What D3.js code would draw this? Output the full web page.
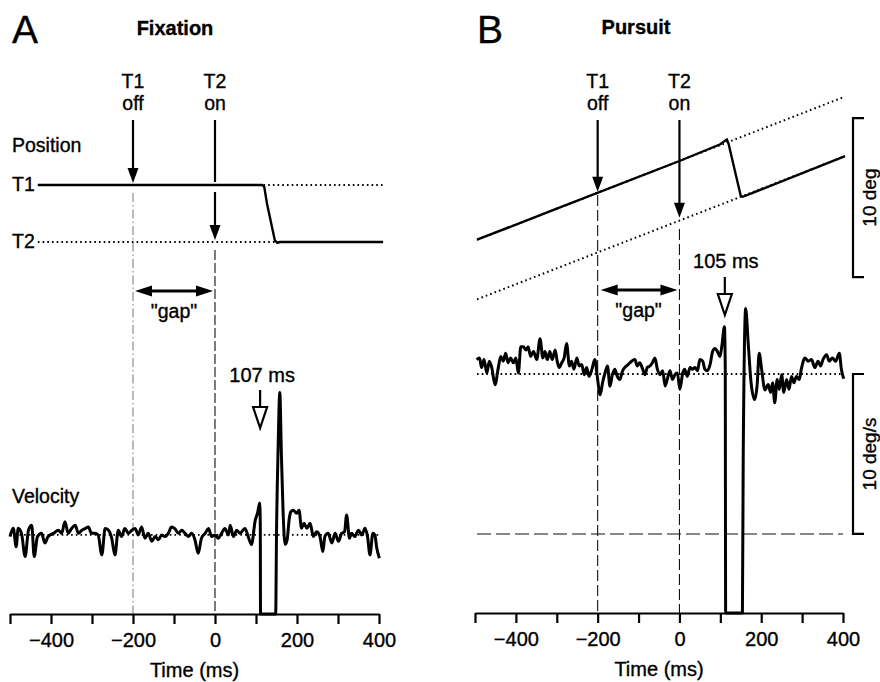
<!DOCTYPE html>
<html><head><meta charset="utf-8">
<script src="https://cdn.jsdelivr.net/npm/d3@7"></script>
<style>
body{margin:0;background:#fff}
text{font-family:"Liberation Sans",Arial,Helvetica,sans-serif;fill:#000;stroke:#000;stroke-width:0.35px}
</style>
</head><body>
<svg id="c" width="880" height="682"></svg>
<script>
// ---------------- DATA ----------------
const timeDomain = [-500, 400];
const tickValues = [-500, -400, -300, -200, -100, 0, 100, 200, 300, 400];
const labeledTicks = [-400, -200, 0, 200, 400];
const tickLabels = ["\u2212400", "\u2212200", "0", "200", "400"];
const eventTimes = [-200, 0];               // T1 off, T2 on
const eventLabels = [["T1", "off"], ["T2", "on"]];
const latencyLabels = ["107 ms", "105 ms"];
const latencyMarkTimes = [110, 111];        // open-arrow positions (ms)

// Panel A (Fixation) position, deg
const posA_T1 = [[-432, 0], [410, 0]];
const posA_T2 = [[-432, -3.6], [410, -3.6]];
const posA_eye = [[-432, 0], [115, 0], [120, -0.1], [127, -1.2], [146, -3.5], [152, -3.65], [158, -3.6], [410, -3.6]];

// Panel A velocity, deg/s (-5 = off scale, below axis)
const velA = [[-500,-0.1],[-492,0.42],[-485,-0.73],[-480,0.42],[-472,0.1],[-463,-1.35],[-455,0.3],[-447,0.6],[-441,-1.35],[-433,-0.1],[-423,0.1],[-415,-0.5],[-407,-0.1],[-394,0.1],[-382,0.3],[-374,0.1],[-366,0.83],[-358,0.1],[-350,0.4],[-341,0.6],[-333,0.1],[-325,0.3],[-317,0.4],[-309,0.5],[-301,0.1],[-293,0.1],[-285,0],[-276,-1.25],[-268,0.4],[-260,0.3],[-252,-0.2],[-244,-1.25],[-236,0.3],[-228,-0.1],[-220,0.4],[-211,0.1],[-203,0.3],[-195,0.4],[-187,0],[-179,0.5],[-171,-0.2],[-163,0.1],[-154,-0.4],[-146,-0.1],[-138,-0.3],[-130,0],[-122,-0.1],[-114,0.1],[-106,0.5],[-98,0.4],[-89,0.1],[-81,0.3],[-73,0.1],[-65,-0.1],[-57,0.1],[-49,-0.3],[-41,-1.15],[-33,-0.2],[-24,0.1],[-16,0.4],[-8,-0.1],[0,0],[8,-0.2],[16,0.1],[24,0.4],[33,0],[37,0.6],[45,-0.1],[53,0.3],[61,0.1],[73,0.4],[81,-0.1],[89,-0.6],[98,0.9],[104,1.4],[109,2.0],[110.5,0.6],[111,-5],[148,-5],[150,0],[154,5.5],[158,8.9],[162,5],[166,1.5],[171,-0.6],[176,-0.3],[181,1.0],[185,1.45],[191,1.55],[199,1.35],[205,1.55],[211,0.42],[217,0.73],[224,0.42],[232,0.73],[240,-0.1],[248,0.2],[256,-0.1],[263,-1.04],[268,-0.1],[276,0.1],[285,-0.5],[293,0.1],[301,-0.4],[309,0.1],[316,0.2],[321,1.25],[328,-0.2],[333,0.1],[341,-0.1],[350,0.3],[358,0],[366,0.42],[372,-0.1],[378,-1.25],[385,0.1],[390,0],[394,-0.73],[401,-1.45]];

// Panel B (Pursuit) position, deg
const posB_T1 = [[-495, -4.95], [400, 4.0]];
const posB_T2 = [[-495, -8.7], [405, 0.3]];
const posB_eye = [[-495,-4.95],[-300,-3.0],[0,0],[100,1.05],[110,1.25],[116,1.35],[120,1.1],[150,-2.2],[155,-2.25],[405,0.3]];

// Panel B velocity, deg/s (-6 = off scale, below axis)
const velB = [[-496,10.9],[-489,11.0],[-484,10.4],[-478,10.9],[-471,10.06],[-465,10.8],[-459,10.4],[-451,9.33],[-443,10.4],[-437,11.1],[-431,10.8],[-425,11.3],[-419,10.7],[-413,11.0],[-406,10.7],[-400,11.0],[-394,10.06],[-388,11.7],[-382,11.7],[-375,11.5],[-370,11.7],[-364,11.1],[-357,11.4],[-349,10.9],[-341,12.2],[-334,11.0],[-329,11.4],[-323,10.9],[-317,11.4],[-311,10.9],[-304,11.5],[-299,10.8],[-294,10.4],[-288,10.7],[-282,11.0],[-276,11.9],[-269,10.5],[-264,10.8],[-258,10.3],[-251,11.0],[-245,10.5],[-239,10.6],[-233,9.96],[-227,10.4],[-221,9.85],[-215,10.2],[-207,10.9],[-201,9.85],[-194,8.7],[-188,9.46],[-182,10.06],[-176,10.5],[-170,9.23],[-164,9.96],[-158,10.3],[-152,9.85],[-146,9.65],[-139,10.2],[-134,10.4],[-125,10.6],[-117,10.8],[-109,10.9],[-103,10.5],[-97,10.7],[-90,10.3],[-84,9.96],[-79,10.4],[-72,10.5],[-66,10.7],[-60,11.0],[-54,10.3],[-48,9.96],[-41,10.2],[-35,9.25],[-29,9.75],[-23,10.2],[-17,9.65],[-11,9.96],[-5,10.06],[1,9.04],[8,10.06],[13,10.3],[19,9.85],[26,10.4],[32,10.3],[38,10.4],[44,10.2],[50,10.9],[57,10.8],[62,10.3],[68,10.2],[75,10.6],[81,11.4],[87,11.6],[93,11.4],[99,11.1],[104,11.8],[110,12.96],[112,10.5],[113,-6],[154,-6],[156,5],[162,14.1],[168,12],[175,9.5],[184,8.4],[190,9.3],[195,11.3],[201,10.3],[209,9.0],[217,9.35],[223,8.85],[228,9.46],[233,8.2],[239,9.65],[244,9.04],[250,9.96],[255,8.85],[262,9.65],[268,9.04],[274,9.85],[280,9.46],[286,9.85],[293,9.65],[298,10.3],[307,11.0],[315,10.8],[323,10.9],[331,10.4],[339,10.8],[345,10.5],[351,10.9],[360,11.2],[366,10.8],[374,11.0],[382,10.8],[391,11.3],[396,10.3],[402,9.7]];
const velB_target = 10;   // deg/s, dotted reference
const scaleBarPos = [2.7, -7.3];   // 10 deg bar (deg)
const scaleBarVel = [10, 0];       // 10 deg/s bar (deg/s)

// ---------------- DRAWING ----------------
const svg = d3.select("#c");
svg.append("rect").attr("width", 880).attr("height", 682).attr("fill", "#fff");

function txt(g, x, y, s, o = {}) {
  return g.append("text").attr("x", x).attr("y", y).text(s)
    .attr("font-size", o.size || 19)
    .attr("font-weight", o.bold ? "bold" : "normal")
    .attr("text-anchor", o.anchor || "start");
}
function headDown(g, x, yTip, len = 15, hw = 5.5) {
  g.append("path").attr("d", `M${x},${yTip}L${x - hw},${yTip - len}L${x + hw},${yTip - len}Z`).attr("fill", "#000");
}
function arrowDown(g, x, y1, y2) {
  g.append("line").attr("x1", x).attr("x2", x).attr("y1", y1).attr("y2", y2 - 10).attr("stroke", "#000").attr("stroke-width", 2.2);
  headDown(g, x, y2);
}
function openArrow(g, x, y1, yTip) {
  g.append("line").attr("x1", x).attr("x2", x).attr("y1", y1).attr("y2", yTip - 20).attr("stroke", "#000").attr("stroke-width", 2.2);
  g.append("path").attr("d", `M${x},${yTip}L${x - 7},${yTip - 21}L${x + 7},${yTip - 21}Z`)
    .attr("fill", "#fff").attr("stroke", "#000").attr("stroke-width", 2.2).attr("stroke-linejoin", "miter");
}
function gapArrow(g, x1, x2, y) {
  g.append("line").attr("x1", x1 + 10).attr("x2", x2 - 10).attr("y1", y).attr("y2", y).attr("stroke", "#000").attr("stroke-width", 2.8);
  g.append("path").attr("d", `M${x1},${y}L${x1 + 17},${y - 5.5}L${x1 + 17},${y + 5.5}Z`).attr("fill", "#000");
  g.append("path").attr("d", `M${x2},${y}L${x2 - 17},${y - 5.5}L${x2 - 17},${y + 5.5}Z`).attr("fill", "#000");
}
function timeAxis(g, x, y) {
  const ax = d3.axisBottom(x).tickValues(tickValues).tickSize(10).tickSizeOuter(0).tickPadding(9)
    .tickFormat(d => { const i = labeledTicks.indexOf(d); return i >= 0 ? tickLabels[i] : ""; });
  const a = g.append("g").attr("transform", `translate(0,${y})`).call(ax);
  a.select(".domain").attr("stroke-width", 2.2);
  a.selectAll(".tick line").attr("stroke-width", 2.2);
  a.selectAll(".tick text").attr("font-size", 20).attr("font-family", '"Liberation Sans",Arial,sans-serif')
    .attr("fill", "#000").attr("stroke", "#000").attr("stroke-width", 0.35);
  txt(g, x(-50), y + 63, "Time (ms)", { size: 20, anchor: "middle" });
}
const dotted = sel => sel.attr("fill", "none").attr("stroke", "#000").attr("stroke-width", 2).attr("stroke-dasharray", "1.6,3.1");

// ===== Panel A =====
{
  const g = svg.append("g");
  const x = d3.scaleLinear().domain(timeDomain).range([10, 379]);
  const yP = d3.scaleLinear().domain([0, -3.6]).range([185, 242]);
  const yV = d3.scaleLinear().domain([-4.94, 15]).range([614, 295]).clamp(true);
  const axisY = 614;

  txt(g, 12, 43, "A", { size: 39 }).attr("stroke-width", 0.8);
  txt(g, 175, 35, "Fixation", { size: 20, bold: true, anchor: "middle" });
  txt(g, 12, 152, "Position", { size: 19.5 });
  txt(g, 12, 191, "T1", { size: 19.5 });
  txt(g, 12, 248, "T2", { size: 19.5 });
  txt(g, 12, 503, "Velocity", { size: 19.5 });

  // event verticals
  g.append("line").attr("x1", x(eventTimes[0])).attr("x2", x(eventTimes[0])).attr("y1", 193).attr("y2", axisY)
    .attr("stroke", "#777").attr("stroke-width", 1).attr("stroke-dasharray", "9,3,1.5,3");
  g.append("line").attr("x1", x(eventTimes[1])).attr("x2", x(eventTimes[1])).attr("y1", 250).attr("y2", axisY)
    .attr("stroke", "#111").attr("stroke-width", 1.1).attr("stroke-dasharray", "10,3");

  const lineP = d3.line().x(d => x(d[0])).y(d => yP(d[1]));
  g.append("path").attr("d", lineP(posA_T1)).call(dotted);
  g.append("path").attr("d", lineP(posA_T2)).call(dotted);
  g.append("path").attr("d", lineP(posA_eye)).attr("fill", "none").attr("stroke", "#000").attr("stroke-width", 2.4);

  // labels and arrows
  eventTimes.forEach((t, i) => {
    txt(g, x(t), 88, eventLabels[i][0], { size: 19.5, anchor: "middle" });
    txt(g, x(t), 110, eventLabels[i][1], { size: 19.5, anchor: "middle" });
  });
  arrowDown(g, x(eventTimes[0]), 120, 183);
  g.append("line").attr("x1", x(eventTimes[1])).attr("x2", x(eventTimes[1])).attr("y1", 120).attr("y2", 182).attr("stroke", "#000").attr("stroke-width", 2.2);
  arrowDown(g, x(eventTimes[1]), 192, 240);
  gapArrow(g, x(eventTimes[0]) + 2, x(eventTimes[1]) - 2, 291);
  txt(g, (x(eventTimes[0]) + x(eventTimes[1])) / 2, 318, "\"gap\"", { size: 19.5, anchor: "middle" });

  // velocity
  g.append("path").attr("d", d3.line()([[x(-500), yV(0)], [x(405), yV(0)]])).call(dotted).attr("stroke-width", 1.8);
  g.append("path").attr("d", d3.line().x(d => x(d[0])).y(d => yV(d[1])).curve(d3.curveMonotoneX)(velA))
    .attr("fill", "none").attr("stroke", "#000").attr("stroke-width", 3).attr("stroke-linejoin", "round");
  txt(g, x(latencyMarkTimes[0]) + 2, 382, latencyLabels[0], { size: 20, anchor: "middle" });
  openArrow(g, x(latencyMarkTimes[0]), 390, 428);

  timeAxis(g, x, axisY);
}

// ===== Panel B =====
{
  const g = svg.append("g");
  const x = d3.scaleLinear().domain(timeDomain).range([475, 843]);
  const yP = d3.scaleLinear().domain([0, 10]).range([161, 2]);
  const yV = d3.scaleLinear().domain([-4.94, 15]).range([613, 294]).clamp(true);
  const axisY = 613;

  txt(g, 477, 43, "B", { size: 39 }).attr("stroke-width", 0.8);
  txt(g, 636, 34, "Pursuit", { size: 20, bold: true, anchor: "middle" });

  g.append("line").attr("x1", x(eventTimes[0])).attr("x2", x(eventTimes[0])).attr("y1", 195).attr("y2", axisY)
    .attr("stroke", "#111").attr("stroke-width", 1.1).attr("stroke-dasharray", "11,4");
  g.append("line").attr("x1", x(eventTimes[1])).attr("x2", x(eventTimes[1])).attr("y1", 229).attr("y2", axisY)
    .attr("stroke", "#111").attr("stroke-width", 1.1).attr("stroke-dasharray", "11,4");

  const lineP = d3.line().x(d => x(d[0])).y(d => yP(d[1]));
  g.append("path").attr("d", lineP(posB_T1)).call(dotted);
  g.append("path").attr("d", lineP(posB_T2)).call(dotted);
  g.append("path").attr("d", lineP(posB_eye)).attr("fill", "none").attr("stroke", "#000").attr("stroke-width", 2.4);

  eventTimes.forEach((t, i) => {
    txt(g, x(t), 88, eventLabels[i][0], { size: 19.5, anchor: "middle" });
    txt(g, x(t), 110, eventLabels[i][1], { size: 19.5, anchor: "middle" });
  });
  arrowDown(g, x(eventTimes[0]), 120, yP(eventTimes[0] / 100) - 1);
  arrowDown(g, x(eventTimes[1]), 120, yP(posB_T2[0][1] + (eventTimes[1] - posB_T2[0][0]) * (posB_T2[1][1] - posB_T2[0][1]) / (posB_T2[1][0] - posB_T2[0][0])) - 3);
  gapArrow(g, x(eventTimes[0]) + 3, x(eventTimes[1]) - 2, 290);
  txt(g, (x(eventTimes[0]) + x(eventTimes[1])) / 2, 317, "\"gap\"", { size: 19.5, anchor: "middle" });

  // velocity
  g.append("path").attr("d", d3.line()([[x(-495), yV(velB_target)], [x(400), yV(velB_target)]])).call(dotted).attr("stroke-width", 1.8);
  g.append("line").attr("x1", x(-495)).attr("x2", x(400)).attr("y1", yV(0)).attr("y2", yV(0))
    .attr("stroke", "#111").attr("stroke-width", 1.1).attr("stroke-dasharray", "14,5");
  g.append("path").attr("d", d3.line().x(d => x(d[0])).y(d => yV(d[1])).curve(d3.curveMonotoneX)(velB))
    .attr("fill", "none").attr("stroke", "#000").attr("stroke-width", 3).attr("stroke-linejoin", "round");
  txt(g, x(latencyMarkTimes[1]) + 1, 268, latencyLabels[1], { size: 20, anchor: "middle" });
  openArrow(g, x(latencyMarkTimes[1]), 277, 315);

  // scale bars
  const bar = (y1, y2, label) => {
    const bx = 853, tx = 864;
    g.append("path").attr("d", `M${tx},${y1}H${bx}V${y2}H${tx}`).attr("fill", "none").attr("stroke", "#000").attr("stroke-width", 2.2);
    g.append("text").attr("transform", `translate(876,${(y1 + y2) / 2}) rotate(-90)`)
      .attr("text-anchor", "middle").attr("font-size", 19).text(label);
  };
  bar(yP(scaleBarPos[0]), yP(scaleBarPos[1]), "10 deg");
  bar(yV(scaleBarVel[0]), yV(scaleBarVel[1]), "10 deg/s");

  timeAxis(g, x, axisY);
}
</script>
</body></html>
